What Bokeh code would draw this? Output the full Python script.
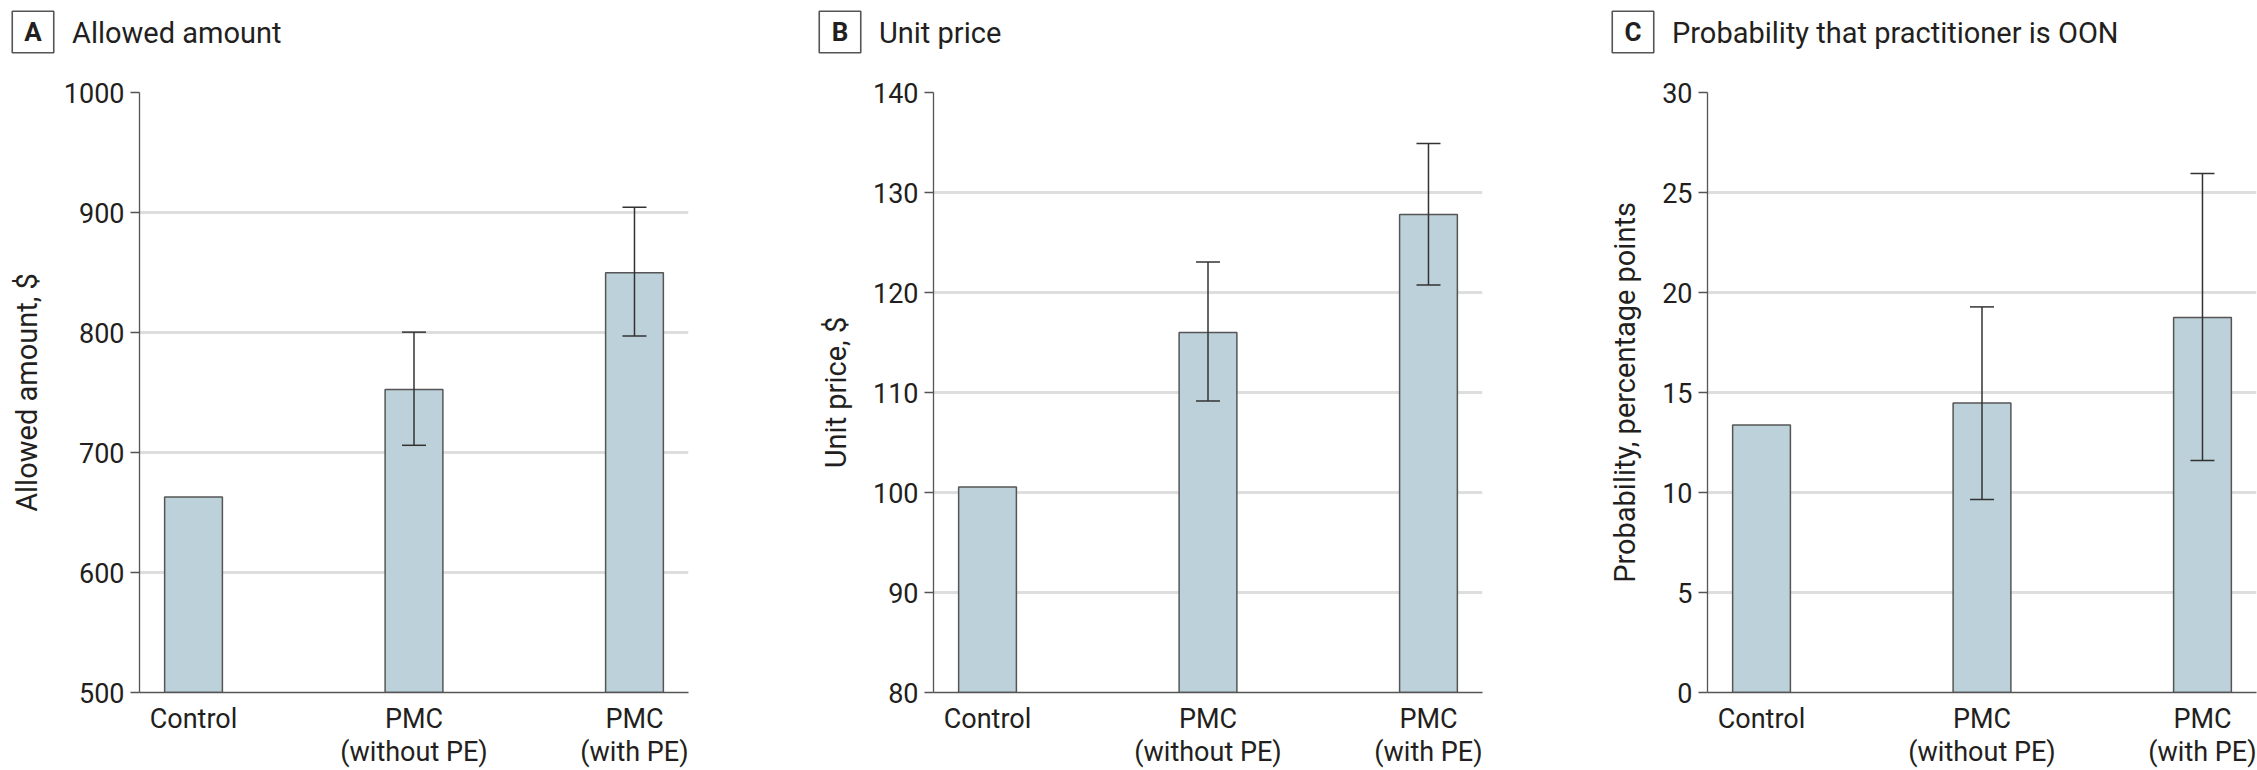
from bokeh.plotting import figure
from bokeh.layouts import row, column
from bokeh.models import ColumnDataSource, Whisker, TeeHead, FixedTicker, Range1d
from bokeh.core.properties import value
from bokeh.embed import file_html
from bokeh.resources import INLINE

# ---------------- data ----------------
categories = ["Control", "PMC\n(without PE)", "PMC\n(with PE)"]

allowed_mean = [663.0, 752.5, 849.7]
allowed_lower = [None, 706.0, 797.0]
allowed_upper = [None, 800.3, 904.4]
allowed_ticks = [500, 600, 700, 800, 900, 1000]

price_mean = [100.55, 116.0, 127.8]
price_lower = [None, 109.15, 120.75]
price_upper = [None, 123.05, 134.9]
price_ticks = [80, 90, 100, 110, 120, 130, 140]

prob_mean = [13.38, 14.47, 18.75]
prob_lower = [None, 9.65, 11.6]
prob_upper = [None, 19.28, 25.95]
prob_ticks = [0, 5, 10, 15, 20, 25, 30]

panel_letters = ["A", "B", "C"]
panel_titles = ["Allowed amount", "Unit price", "Probability that practitioner is OON"]
y_labels = ["Allowed amount, $", "Unit price, $", "Probability, percentage points"]

FONT = "Roboto"
TXT = "#231f20"
BAR_FILL = "#bdd1da"
EDGE = "#555555"
ERR = "#333333"
GRID = "#dedede"

FRAME_W = 549
FRAME_H = 600
TITLE_H = 72
TOP = 20
BOTTOM = 76
TOTAL_W = 2257


def panel(ylabel, means, lowers, uppers, ticks, left_border, right_border):
    y0, y1 = ticks[0], ticks[-1]
    p = figure(frame_width=FRAME_W, frame_height=FRAME_H,
               x_range=Range1d(-0.245, 2.245), y_range=Range1d(y0, y1),
               output_backend="svg", toolbar_location=None,
               min_border_left=left_border, min_border_right=right_border,
               min_border_top=TOP, min_border_bottom=BOTTOM)
    p.outline_line_color = None

    xs = list(range(len(categories)))

    p.xgrid.visible = False
    p.ygrid.ticker = FixedTicker(ticks=ticks)
    p.ygrid.grid_line_color = GRID
    p.ygrid.grid_line_width = 3

    p.vbar(x=xs, top=means, bottom=y0, width=0.262,
           fill_color=BAR_FILL, line_color=EDGE, line_width=1.5)

    ex = [x for x, lo in zip(xs, lowers) if lo is not None]
    elo = [lo for lo in lowers if lo is not None]
    eup = [up for up in uppers if up is not None]
    src = ColumnDataSource(dict(x=ex, lower=elo, upper=eup))
    w = Whisker(source=src, base="x", lower="lower", upper="upper",
                line_color=ERR, line_width=1.5, level="overlay",
                upper_head=TeeHead(size=24, line_color=ERR, line_width=1.5),
                lower_head=TeeHead(size=24, line_color=ERR, line_width=1.5))
    p.add_layout(w)

    ya = p.yaxis[0]
    ya.ticker = FixedTicker(ticks=ticks)
    ya.axis_line_color = EDGE
    ya.axis_line_width = 1.3
    ya.major_tick_line_color = EDGE
    ya.major_tick_line_width = 1.3
    ya.major_tick_out = 9
    ya.major_tick_in = 0
    ya.minor_tick_line_color = None
    ya.major_label_standoff = 6
    ya.major_label_text_font = FONT
    ya.major_label_text_font_size = "27px"
    ya.major_label_text_color = TXT
    ya.axis_label = ylabel
    ya.axis_label_text_font = FONT
    ya.axis_label_text_font_size = "29px"
    ya.axis_label_text_font_style = "normal"
    ya.axis_label_text_color = TXT
    ya.axis_label_standoff = 17

    xa = p.xaxis[0]
    xa.ticker = FixedTicker(ticks=xs)
    xa.major_label_overrides = {i: c for i, c in zip(xs, categories)}
    xa.axis_line_color = EDGE
    xa.axis_line_width = 1.3
    xa.major_tick_line_color = None
    xa.minor_tick_line_color = None
    xa.major_label_standoff = 4
    xa.major_label_text_font = FONT
    xa.major_label_text_font_size = "27px"
    xa.major_label_text_line_height = 1.05
    xa.major_label_text_color = TXT
    return p


borders = [(139, 119), (126, 118), (107, 1)]
series = [(allowed_mean, allowed_lower, allowed_upper, allowed_ticks),
          (price_mean, price_lower, price_upper, price_ticks),
          (prob_mean, prob_lower, prob_upper, prob_ticks)]

panels = []
fig_lefts = []
left = 0
for i in range(3):
    lb, rb = borders[i]
    m, lo, up, tk = series[i]
    panels.append(panel(y_labels[i], m, lo, up, tk, lb, rb))
    fig_lefts.append(left)
    left += lb + FRAME_W + rb

# header strip with the panel letters (boxed) and titles
h = figure(frame_width=TOTAL_W, frame_height=TITLE_H,
           x_range=Range1d(0, TOTAL_W), y_range=Range1d(0, TITLE_H),
           x_axis_location=None, y_axis_location=None,
           output_backend="svg", toolbar_location=None,
           min_border_left=0, min_border_right=0, min_border_top=0, min_border_bottom=0)
h.outline_line_color = None
h.grid.visible = False
box_x = [fl + 32.5 for fl in fig_lefts]
title_x = [fl + 71.5 for fl in fig_lefts]
h.rect(x=box_x, y=TITLE_H - 31.5, width=41.5, height=41.5,
       fill_color="white", line_color=EDGE, line_width=1.6)
h.text(x=box_x, y=TITLE_H - 31.5, text=panel_letters, text_align="center",
       text_baseline="middle", text_font=value(FONT), text_font_style="bold",
       text_font_size="26px", text_color=TXT)
h.text(x=title_x, y=TITLE_H - 32.5, text=panel_titles, text_align="left",
       text_baseline="middle", text_font=value(FONT), text_font_size="29px",
       text_color=TXT)

layout = column(h, row(*panels, spacing=0), spacing=0)
open("out.html", "w").write(file_html(layout, INLINE))
